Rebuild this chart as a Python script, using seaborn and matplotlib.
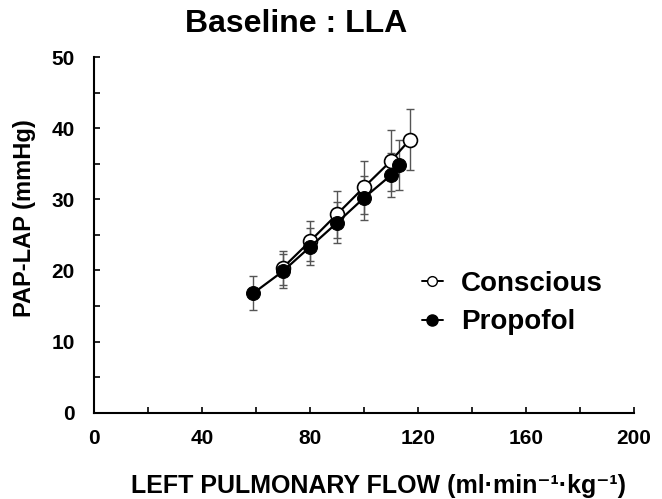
import numpy as np
import pandas as pd
import seaborn as sns
import matplotlib.pyplot as plt
from matplotlib.lines import Line2D

# data
cons_flow = [70, 80, 90, 100, 110, 117]
cons_pap = [20.4, 24.1, 27.9, 31.7, 35.4, 38.4]
cons_sd = [2.4, 2.8, 3.3, 3.7, 4.3, 4.3]

prop_flow = [59, 70, 80, 90, 100, 110, 113]
prop_pap = [16.8, 19.9, 23.3, 26.7, 30.2, 33.4, 34.8]
prop_sd = [2.4, 2.4, 2.6, 2.9, 3.1, 3.1, 3.5]

df_c = pd.DataFrame({"flow": cons_flow, "pap": cons_pap, "sd": cons_sd})
df_p = pd.DataFrame({"flow": prop_flow, "pap": prop_pap, "sd": prop_sd})

sns.set_style("ticks")
plt.rcParams['font.family'] = ['Liberation Sans', 'DejaVu Sans']
plt.rcParams['font.weight'] = 'bold'
for k in ['text.color', 'axes.labelcolor', 'xtick.color', 'ytick.color', 'axes.edgecolor']:
    plt.rcParams[k] = 'black'

fig = plt.figure(figsize=(6.62, 4.99), dpi=100)
ax = fig.add_axes([0.142, 0.1729, 0.8157, 0.7128])

# error bars (thin grey, capped)
for d in [df_c, df_p]:
    ax.errorbar(d["flow"], d["pap"], yerr=d["sd"], fmt="none", ecolor="#555555",
                elinewidth=1, capsize=3, capthick=1, zorder=1)

sns.lineplot(data=df_p, x="flow", y="pap", ax=ax, color="black", lw=1.6,
             marker="o", markersize=10, markerfacecolor="black",
             markeredgecolor="black", zorder=3)
sns.lineplot(data=df_c, x="flow", y="pap", ax=ax, color="black", lw=1.6,
             marker="o", markersize=10, markerfacecolor="white",
             markeredgecolor="black", markeredgewidth=1.2, zorder=2)

ax.set_xlim(0, 200)
ax.set_ylim(0, 50)
ax.set_xticks(np.arange(0, 201, 40))
ax.set_xticks(np.arange(0, 201, 20), minor=True)
ax.set_yticks(np.arange(0, 51, 10))
ax.set_yticks(np.arange(0, 51, 5), minor=True)
ax.tick_params(which="both", direction="in", width=1.2, length=4.5, labelsize=15,
               colors="black")
ax.tick_params(axis="x", pad=12)
ax.tick_params(axis="y", pad=14)
for lab in ax.get_xticklabels() + ax.get_yticklabels():
    lab.set_fontweight("bold")
sns.despine(ax=ax)
for s in ["left", "bottom"]:
    ax.spines[s].set_linewidth(1.5)
    ax.spines[s].set_color("black")

ax.set_xlabel("")
ax.set_ylabel("")
fig.text(379 / 662, 1 - 492.7 / 499, "LEFT PULMONARY FLOW (ml·min⁻¹·kg⁻¹)",
         ha="center", va="baseline", fontsize=18, fontweight="bold")
fig.text(24 / 662, 1 - 218.5 / 499, "PAP-LAP (mmHg)", rotation=90,
         ha="center", va="center", fontsize=17, fontweight="bold")
fig.text(296.5 / 662, 1 - 32 / 499, "Baseline : LLA", ha="center",
         va="baseline", fontsize=23, fontweight="bold")

handles = [
    Line2D([], [], color="black", lw=1.4, marker="o", markersize=7,
           markerfacecolor="white", markeredgecolor="black"),
    Line2D([], [], color="black", lw=1.4, marker="o", markersize=8,
           markerfacecolor="black", markeredgecolor="black"),
]
leg = ax.legend(handles, ["Conscious", "Propofol"], loc="center left",
                bbox_to_anchor=(0.607, 0.308), frameon=False, handlelength=0.75,
                handletextpad=0.65, labelspacing=0.45, borderpad=0,
                borderaxespad=0, prop={"size": 20, "weight": "bold"})

fig.savefig("out.png", dpi=100)
